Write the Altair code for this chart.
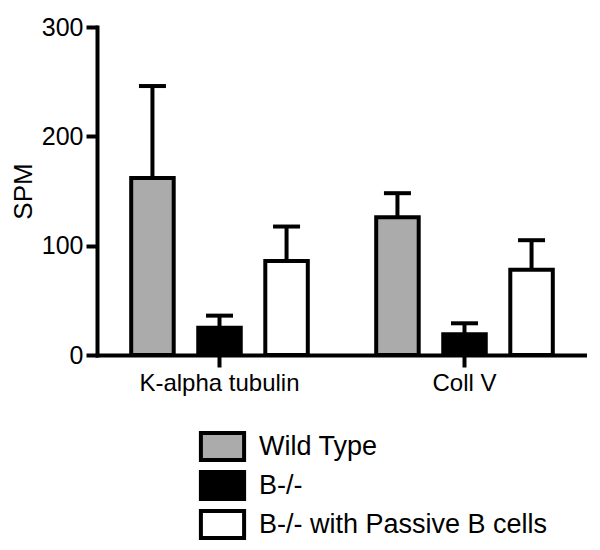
import altair as alt
import pandas as pd

genes = ["K-alpha tubulin", "Coll V"]
groups = ["Wild Type", "B-/-", "B-/- with Passive B cells"]
colors = ["#ababab", "#000000", "#ffffff"]

wt_mean = [162, 126]
wt_err = [84, 22]
ko_mean = [25, 19]
ko_err = [11, 10]
pas_mean = [86, 78]
pas_err = [31.5, 27]

rows = []
for g, m, e in [(groups[0], wt_mean, wt_err), (groups[1], ko_mean, ko_err), (groups[2], pas_mean, pas_err)]:
    for i, gene in enumerate(genes):
        rows.append({"gene": gene, "group": g, "mean": m[i], "hi": m[i] + e[i]})
df = pd.DataFrame(rows)

FONT = "Liberation Sans"

x = alt.X("gene:N", sort=genes, title=None,
          scale=alt.Scale(paddingInner=0, paddingOuter=0),
          axis=alt.Axis(labelAngle=0))
xo = alt.XOffset("group:N", sort=groups,
                 scale=alt.Scale(paddingInner=0.366, paddingOuter=0.51))
yscale = alt.Scale(domain=[0, 300], nice=False)

base = alt.Chart(df)

bars = base.mark_bar(stroke="black", strokeWidth=4, strokeJoin="miter").encode(
    x=x, xOffset=xo,
    y=alt.Y("mean:Q", scale=yscale, title="SPM",
            axis=alt.Axis(values=[0, 100, 200, 300])),
    fill=alt.Fill("group:N", sort=groups,
                  scale=alt.Scale(domain=groups, range=colors),
                  legend=alt.Legend(title=None, orient="none", legendX=110, legendY=404,
                                    symbolType="M-1.6,-1H1.6V1H-1.6Z", symbolSize=729,
                                    symbolStrokeColor="black", symbolStrokeWidth=4,
                                    symbolOpacity=1, labelFontSize=27, labelOffset=21,
                                    labelLimit=500,
                                    rowPadding=-4, labelFont=FONT, labelColor="black")),
)

rules = base.mark_rule(color="black", strokeWidth=4).encode(
    x=x, xOffset=xo,
    y=alt.Y("mean:Q", scale=yscale, title="SPM"),
    y2="hi:Q",
)

caps = base.mark_tick(color="black", thickness=4, size=27, opacity=1).encode(
    x=x, xOffset=xo,
    y=alt.Y("hi:Q", scale=yscale, title="SPM"),
)

chart = alt.layer(bars, rules, caps).properties(
    width=490, height=328,
    autosize=alt.AutoSizeParams(type="none"),
    padding={"left": 89, "top": 19, "right": 0, "bottom": 190},
).configure_view(stroke=None).configure_axis(
    domainColor="black", domainWidth=4, domainCap="square", grid=False,
    labelFont=FONT, titleFont=FONT, labelColor="black", titleColor="black",
    tickColor="black", tickWidth=4,
).configure_axisX(
    labelFontSize=24, labelPadding=4, tickSize=12,
).configure_axisY(
    labelFontSize=25, labelPadding=3, tickSize=11,
    titleFontSize=26, titleFontWeight="normal", titlePadding=5,
).configure_legend(labelFont=FONT)

chart.save("out.html", embed_options={"renderer": "svg", "actions": False})
